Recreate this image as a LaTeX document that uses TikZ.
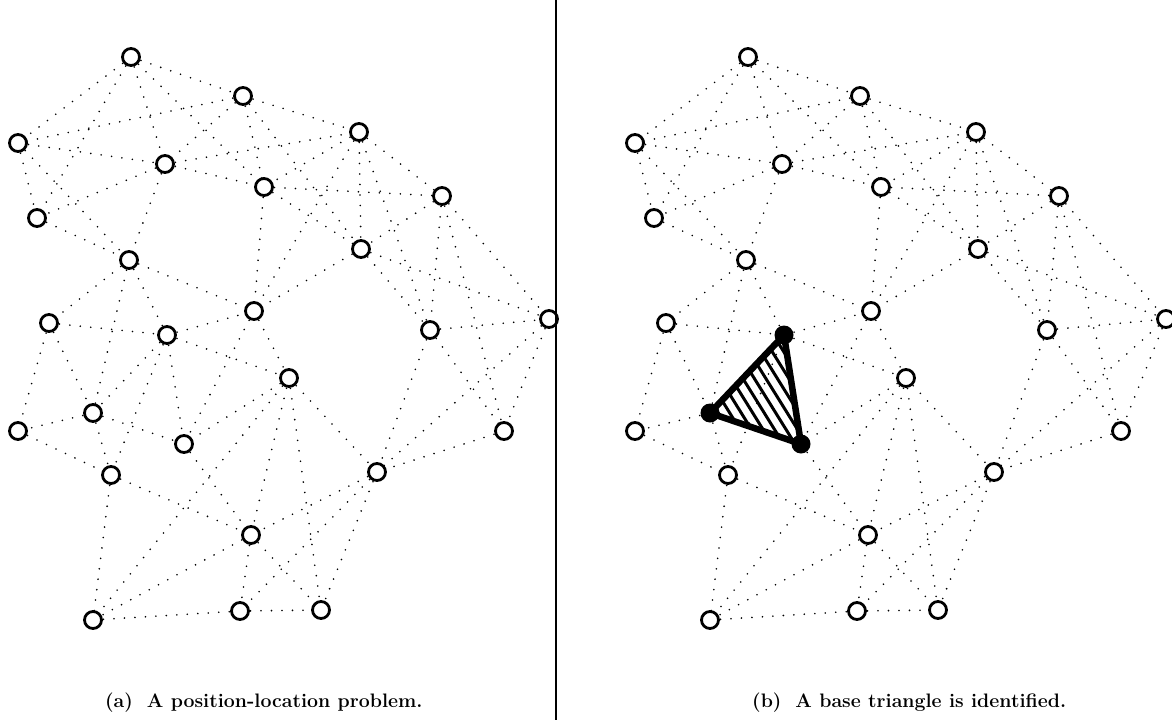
\documentclass[tikz,border=0pt]{standalone}
\begin{document}
\begin{tikzpicture}[x=1pt,y=-1pt,
  pt/.style={circle,draw=black,fill=white,line width=2.8pt,minimum size=17pt,inner sep=0pt},
  vtx/.style={circle,fill=black,minimum size=19pt,inner sep=0pt},
  dotline/.style={line width=1.8pt,line cap=round,dash pattern=on 0pt off 10.5pt},
  triedge/.style={line width=6.5pt,line join=round},
  hatch/.style={line width=3pt},
  divider/.style={line width=1.8pt},
  captext/.style={font=\fontsize{19.5}{23}\selectfont\bfseries,inner sep=0pt,anchor=base west}]
\useasboundingbox (0,0) rectangle (1172,720);
\def\off{617}
% node positions (left panel; right panel shifted by \off)
\foreach \n/\x/\y in {A/131/57,B/243/96,C/18/143,D/165/164,E/359/132,F/264/187,G/37/218,
  H/442/196,I/129/260,J/361/249,K/49/323,L/167/335,M/254/311,N/430/330,O/549/319,
  P/289/378,Q/93/413,R/18/431,S/184/444,T/504/431,U/111/475,V/377/472,W/251/535,
  X/93/620,Y/240/611,Z/321/610}{
  \coordinate (\n1) at (\x,\y);
  \coordinate (\n2) at (\x+\off,\y);
}
% dotted connectors in both panels
\foreach \a/\b in {A/B,A/C,A/D,A/F,A/G,B/C,B/D,B/E,B/F,B/J,C/D,C/G,C/I,D/E,D/F,D/G,D/I,
  E/F,E/H,E/J,E/M,E/N,F/H,F/J,F/M,G/I,H/J,H/N,H/T,H/O,I/K,I/L,I/Q,I/M,J/M,J/N,J/O,
  K/L,K/R,K/Q,L/M,L/P,L/U,M/P,M/S,N/O,N/T,N/V,O/T,O/V,P/S,P/X,P/W,P/Z,P/V,Q/U,Q/R,
  R/U,S/W,T/V,U/W,U/X,V/W,V/Y,V/Z,W/X,W/Y,W/Z,X/Y,Y/Z}{
  \draw[dotline] (\a1) -- (\b1);
  \draw[dotline] (\a2) -- (\b2);
}
% triangle sides, dotted in panel (a)
\foreach \a/\b in {L/Q,L/S,Q/S}{
  \draw[dotline] (\a1) -- (\b1);
}
% nodes
\foreach \n in {A,B,C,D,E,F,G,H,I,J,K,L,M,N,O,P,Q,R,S,T,U,V,W,X,Y,Z}{
  \node[pt] (n\n1) at (\n1) {};
}
\foreach \n in {A,B,C,D,E,F,G,H,I,J,K,M,N,O,P,R,T,U,V,W,X,Y,Z}{
  \node[pt] (n\n2) at (\n2) {};
}
% base triangle in panel (b)
\begin{scope}
  \clip (L2) -- (Q2) -- (S2) -- cycle;
  \foreach \k in {0,...,22}{
    \draw[hatch] (580+\k*11.5,320) -- (667+\k*11.5,460);
  }
\end{scope}
\draw[triedge] (L2) -- (Q2) -- (S2) -- cycle;
\node[vtx] (tL) at (L2) {};
\node[vtx] (tQ) at (Q2) {};
\node[vtx] (tS) at (S2) {};
% divider
\coordinate (dtop) at (556,0);
\coordinate (dbot) at (556,720);
\draw[divider] (dtop) -- (dbot);
% captions
\node[captext] (capa) at (105,707) {(a)\hspace{14pt}A position-location problem.};
\node[captext] (capb) at (752,707) {(b)\hspace{14pt}A base triangle is identified.};
\end{tikzpicture}
\end{document}
